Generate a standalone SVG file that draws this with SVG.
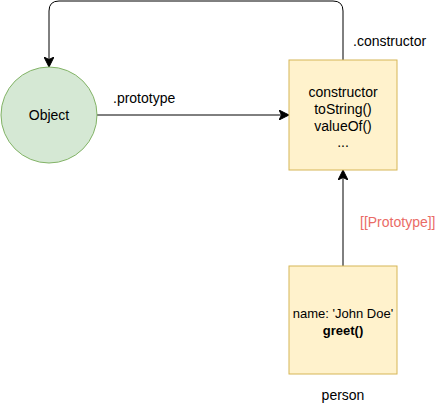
<svg xmlns="http://www.w3.org/2000/svg" width="438" height="403" viewBox="0 0 438 403">
<style>
text{font-family:"Liberation Sans",Arial,sans-serif;font-size:14px;fill:#000}
.box{fill:#fff2cc;stroke:#d6b656;stroke-width:1}
.edge{fill:none;stroke:#000;stroke-width:1}
</style>
<defs>
<marker id="arr" viewBox="0 0 10 10" refX="9" refY="5" markerWidth="10" markerHeight="10" markerUnits="userSpaceOnUse" orient="auto">
<path d="M0,0 L10,5 L0,10 L2.5,5 Z" fill="#000" stroke="#000"/>
</marker>
</defs>
<rect width="438" height="403" fill="#fff"/>
<g id="connectors">
<path class="edge" d="M97,115 H288" marker-end="url(#arr)"/>
<path class="edge" d="M343,60 V11 Q343,1 333,1 H59 Q49,1 49,11 V66" marker-end="url(#arr)"/>
<path class="edge" d="M343,266 V171" marker-end="url(#arr)"/>
<text x="113" y="103">.prototype</text>
<text x="353" y="46">.constructor</text>
<text x="360" y="227" style="fill:#ea6b66">[[Prototype]]</text>
</g>
<g id="object">
<circle cx="49" cy="115" r="48" fill="#d5e8d4" stroke="#82b366"/>
<text x="49" y="120" text-anchor="middle">Object</text>
</g>
<g id="prototype">
<rect class="box" x="289" y="60" width="108" height="110"/>
<text x="343" y="97" text-anchor="middle">constructor</text>
<text x="343" y="114" text-anchor="middle">toString()</text>
<text x="343" y="131" text-anchor="middle">valueOf()</text>
<text x="343" y="147" text-anchor="middle">...</text>
</g>
<g id="person">
<rect class="box" x="289" y="266" width="108" height="108"/>
<text x="343" y="318" text-anchor="middle" style="font-size:13px">name: 'John Doe'</text>
<text x="343" y="335" text-anchor="middle" font-weight="bold" style="font-size:13px">greet()</text>
<text x="343" y="400" text-anchor="middle">person</text>
</g>
</svg>
